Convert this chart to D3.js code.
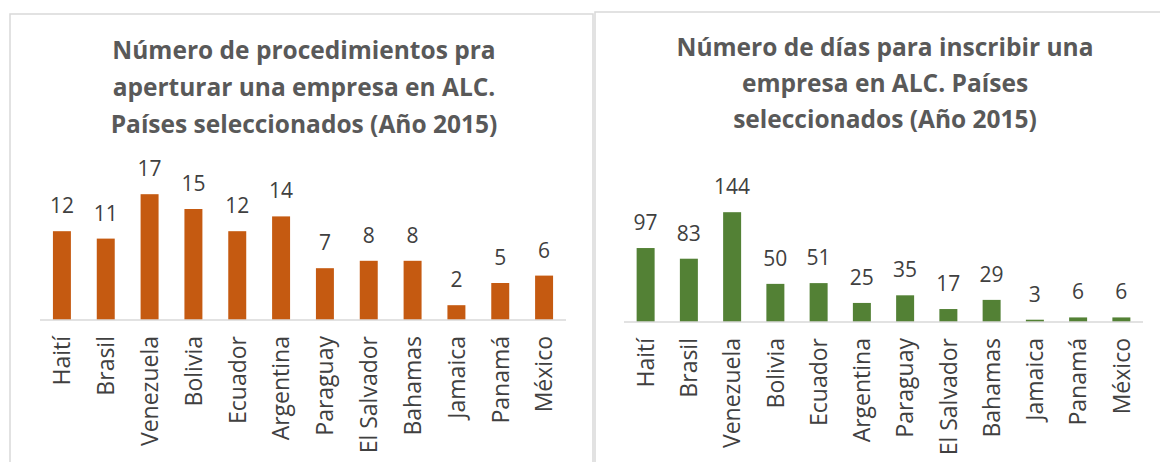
<!DOCTYPE html>
<html>
<head>
<meta charset="utf-8">
<script src="https://cdn.jsdelivr.net/npm/d3@7"></script>
<style>
  html, body { margin: 0; padding: 0; background: #fff; }
  svg { display: block; }
  text { font-family: "Open Sans", "Noto Sans", sans-serif; }
</style>
</head>
<body>
<svg id="chart" width="1160" height="462"></svg>
<script>
// ---- Data ----
const categories = ["Haití", "Brasil", "Venezuela", "Bolivia", "Ecuador", "Argentina",
  "Paraguay", "El Salvador", "Bahamas", "Jamaica", "Panamá", "México"];
const procedimientos = [12, 11, 17, 15, 12, 14, 7, 8, 8, 2, 5, 6];
const dias = [97, 83, 144, 50, 51, 25, 35, 17, 29, 3, 6, 6];
const titleLeft = ["Número de procedimientos pra", "aperturar una empresa en ALC.", "Países seleccionados (Año 2015)"];
const titleRight = ["Número de días para inscribir una", "empresa en ALC. Países", "seleccionados (Año 2015)"];

const svg = d3.select("#chart");

// Panel borders
svg.append("rect").attr("x", 10).attr("y", 14).attr("width", 583).attr("height", 470)
  .attr("fill", "none").attr("stroke", "#d9d9d9").attr("stroke-width", 1.5);
svg.append("rect").attr("x", 595).attr("y", 12).attr("width", 600).attr("height", 470)
  .attr("fill", "none").attr("stroke", "#d9d9d9").attr("stroke-width", 1.5);

function drawPanel(cfg) {
  const g = svg.append("g");
  const x = d3.scaleBand().domain(categories).range(cfg.xRange)
    .paddingInner(cfg.padIn).paddingOuter(cfg.padIn / 2);
  const y = d3.scaleLinear().domain(cfg.yDomain).range(cfg.yRange);

  // Title
  const t = g.append("text").attr("text-anchor", "middle")
    .attr("fill", "#595959").attr("font-weight", "bold").attr("font-size", cfg.titleSize);
  cfg.title.forEach((line, i) => {
    t.append("tspan").attr("x", cfg.titleX).attr("y", cfg.titleY + i * cfg.titleStep).text(line);
  });

  // Bars
  g.selectAll("rect.bar").data(cfg.values).join("rect").attr("class", "bar")
    .attr("x", (d, i) => x(categories[i]))
    .attr("width", x.bandwidth())
    .attr("y", d => y(d))
    .attr("height", d => y(0) - y(d))
    .attr("fill", cfg.color);

  // Axis
  const axis = g.append("g").attr("transform", `translate(0,${y(0)})`)
    .call(d3.axisBottom(x).tickSize(0).tickPadding(0));
  axis.select(".domain").attr("stroke", "#d9d9d9").attr("stroke-width", 1.5)
    .attr("d", `M${cfg.xRange[0]},0H${cfg.xRange[1]}`);
  axis.selectAll(".tick text")
    .attr("transform", "rotate(-90)")
    .attr("text-anchor", "end")
    .attr("x", -cfg.labelGap).attr("y", 0).attr("dy", "0.36em")
    .attr("fill", "#404040").attr("font-size", 23)
    .style("font-family", '"Open Sans", "Noto Sans", sans-serif');

  // Data labels
  g.selectAll("text.val").data(cfg.values).join("text").attr("class", "val")
    .attr("x", (d, i) => x(categories[i]) + x.bandwidth() / 2)
    .attr("y", d => y(d) - 18)
    .attr("text-anchor", "middle").attr("fill", "#404040").attr("font-size", 21)
    .text(d => d);
}

drawPanel({
  values: procedimientos, color: "#C55A11",
  xRange: [40, 566], padIn: 0.59,
  yDomain: [0, 20], yRange: [320, 172],
  title: titleLeft, titleX: 304, titleY: 59, titleStep: 37, titleSize: 24.5,
  labelGap: 16
});

drawPanel({
  values: dias, color: "#538135",
  xRange: [624, 1143], padIn: 0.584,
  yDomain: [0, 160], yRange: [322, 200],
  title: titleRight, titleX: 885, titleY: 56, titleStep: 36, titleSize: 24.5,
  labelGap: 16
});
</script>
</body>
</html>
